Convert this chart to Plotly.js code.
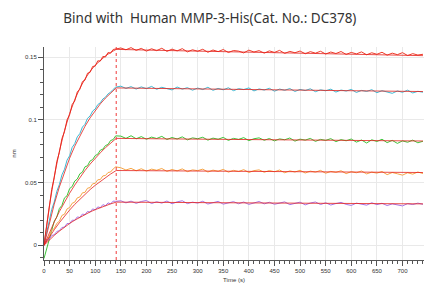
<!DOCTYPE html>
<html>
<head>
<meta charset="utf-8">
<script src="https://cdn.plot.ly/plotly-3.0.1.min.js"></script>
<style>html,body{margin:0;padding:0;background:#fff;}#chart{width:424px;height:286px;}</style>
</head>
<body>
<div id="chart"></div>
<script>
// Observed sensorgram times (s)
const tAssoc = [0,5,10,15,20,25,30,35,40,45,50,55,60,65,70,75,80,85,90,95,100,105,110,115,120,125,130,135,140];
const tDiss = [150,160,170,180,190,200,210,220,230,240,250,260,270,280,290,300,310,320,330,340,350,360,370,380,390,400,410,420,430,440,450,460,470,480,490,500,510,520,530,540,550,560,570,580,590,600,610,620,630,640,650,660,670,680,690,700,710,720,730,740];

// Observed responses (nm)
const redAssoc = [0.0008,0.0172,0.0290,0.0445,0.0538,0.0668,0.0740,0.0851,0.0905,0.1000,0.1040,0.1122,0.1150,0.1222,0.1243,0.1304,0.1316,0.1371,0.1378,0.1425,0.1428,0.1470,0.1468,0.1505,0.1500,0.1536,0.1530,0.1560,0.1566];
const redDiss = [0.1572,0.1558,0.1575,0.1553,0.1569,0.1547,0.1566,0.1551,0.1570,0.1545,
  0.1563,0.1549,0.1567,0.1541,0.1558,0.1546,0.1562,0.1538,0.1556,0.1543,
  0.1560,0.1536,0.1552,0.1547,0.1533,0.1555,0.1540,0.1551,0.1531,0.1549,
  0.1537,0.1553,0.1529,0.1545,0.1534,0.1548,0.1526,0.1543,0.1531,0.1546,
  0.1524,0.1540,0.1528,0.1544,0.1521,0.1537,0.1525,0.1541,0.1518,0.1534,
  0.1522,0.1538,0.1515,0.1531,0.1519,0.1535,0.1512,0.1527,0.1516,0.1522];

const cyanAssoc = [0.0010,0.0112,0.0190,0.0285,0.0345,0.0430,0.0484,0.0561,0.0606,0.0679,0.0713,0.0780,0.0810,0.0864,0.0890,0.0942,0.0964,0.1012,0.1030,0.1070,0.1086,0.1121,0.1136,0.1166,0.1180,0.1206,0.1220,0.1242,0.1260];
const cyanDiss = [0.1268,0.1250,0.1264,0.1245,0.1262,0.1248,0.1266,0.1243,0.1259,0.1249,
  0.1238,0.1261,0.1244,0.1256,0.1236,0.1253,0.1241,0.1259,0.1235,0.1250,
  0.1239,0.1255,0.1232,0.1248,0.1241,0.1254,0.1230,0.1246,0.1237,0.1251,
  0.1228,0.1245,0.1235,0.1249,0.1226,0.1242,0.1233,0.1247,0.1224,0.1239,
  0.1231,0.1244,0.1221,0.1237,0.1229,0.1242,0.1218,0.1234,0.1226,0.1240,
  0.1216,0.1232,0.1223,0.1211,0.1230,0.1219,0.1236,0.1214,0.1227,0.1220];

const greenAssoc = [-0.0105,-0.0030,0.0065,0.0118,0.0192,0.0225,0.0293,0.0318,0.0378,0.0395,0.0452,0.0468,0.0512,0.0528,0.0570,0.0583,0.0625,0.0634,0.0672,0.0683,0.0715,0.0726,0.0758,0.0766,0.0795,0.0803,0.0835,0.0842,0.0872];
const greenDiss = [0.0870,0.0852,0.0873,0.0849,0.0866,0.0845,0.0862,0.0851,0.0868,0.0843,
  0.0859,0.0847,0.0864,0.0840,0.0856,0.0849,0.0861,0.0838,0.0854,0.0845,
  0.0860,0.0836,0.0852,0.0844,0.0858,0.0834,0.0849,0.0856,0.0837,0.0851,
  0.0832,0.0848,0.0841,0.0855,0.0830,0.0846,0.0838,0.0852,0.0828,0.0844,
  0.0836,0.0850,0.0826,0.0842,0.0833,0.0847,0.0822,0.0839,0.0815,0.0841,
  0.0827,0.0845,0.0818,0.0836,0.0812,0.0832,0.0821,0.0838,0.0817,0.0829];

const orangeAssoc = [0.0005,0.0040,0.0070,0.0118,0.0134,0.0175,0.0192,0.0238,0.0248,0.0290,0.0301,0.0335,0.0344,0.0378,0.0385,0.0418,0.0422,0.0455,0.0460,0.0490,0.0494,0.0522,0.0524,0.0553,0.0556,0.0580,0.0584,0.0608,0.0625];
const orangeDiss = [0.0618,0.0600,0.0613,0.0594,0.0610,0.0591,0.0607,0.0598,0.0612,0.0589,
  0.0604,0.0593,0.0609,0.0587,0.0601,0.0595,0.0607,0.0584,0.0599,0.0590,
  0.0605,0.0583,0.0597,0.0588,0.0603,0.0580,0.0595,0.0601,0.0582,0.0596,
  0.0586,0.0600,0.0578,0.0593,0.0584,0.0598,0.0576,0.0591,0.0583,0.0597,
  0.0574,0.0589,0.0581,0.0594,0.0571,0.0587,0.0578,0.0592,0.0569,0.0583,
  0.0575,0.0588,0.0563,0.0580,0.0570,0.0559,0.0578,0.0567,0.0584,0.0572];

const purpleAssoc = [0.0002,0.0040,0.0048,0.0078,0.0084,0.0110,0.0117,0.0142,0.0145,0.0174,0.0172,0.0200,0.0199,0.0226,0.0222,0.0249,0.0244,0.0270,0.0264,0.0290,0.0282,0.0306,0.0300,0.0324,0.0315,0.0338,0.0330,0.0352,0.0350];
const purpleDiss = [0.0355,0.0338,0.0352,0.0334,0.0349,0.0357,0.0333,0.0347,0.0336,0.0353,
  0.0331,0.0346,0.0355,0.0332,0.0344,0.0336,0.0351,0.0329,0.0342,0.0350,
  0.0328,0.0340,0.0348,0.0331,0.0345,0.0326,0.0339,0.0349,0.0330,0.0343,
  0.0327,0.0338,0.0346,0.0324,0.0336,0.0344,0.0322,0.0337,0.0345,0.0325,
  0.0339,0.0321,0.0333,0.0342,0.0326,0.0318,0.0336,0.0328,0.0320,0.0339,
  0.0324,0.0335,0.0317,0.0330,0.0323,0.0314,0.0332,0.0325,0.0336,0.0327];

// Fitted curves (nm)
const tFit = [0,10,20,30,40,50,60,70,80,90,100,110,120,130,141,240,340,440,540,640,740];
const redFit = [0,0.0301,0.0547,0.0749,0.0914,0.1049,0.1160,0.1251,0.1325,0.1386,0.1435,0.1476,0.1509,0.1537,0.1561,0.1552,0.1543,0.1535,0.1527,0.1519,0.1511];
const cyanFit = [0,0.0174,0.0328,0.0465,0.0586,0.0694,0.0789,0.0873,0.0948,0.1015,0.1074,0.1127,0.1173,0.1214,0.1254,0.1249,0.1244,0.1240,0.1235,0.1230,0.1225];
const greenFit = [0,0.0097,0.0186,0.0269,0.0345,0.0415,0.0480,0.0540,0.0596,0.0647,0.0694,0.0737,0.0778,0.0815,0.0852,0.0848,0.0845,0.0841,0.0838,0.0834,0.0831];
const orangeFit = [0,0.0064,0.0124,0.0180,0.0232,0.0281,0.0326,0.0368,0.0407,0.0444,0.0478,0.0510,0.0540,0.0568,0.0596,0.0593,0.0591,0.0588,0.0585,0.0583,0.0580];
const purpleFit = [0,0.0041,0.0079,0.0113,0.0145,0.0174,0.0200,0.0224,0.0246,0.0266,0.0284,0.0301,0.0316,0.0330,0.0344,0.0342,0.0340,0.0337,0.0335,0.0332,0.0330];

const dissStart = 141;
const titleText = "Bind with\u00a0\u00a0Human MMP-3-His(Cat. No.: DC378)";

const tObs = tAssoc.concat(tDiss);
const observed = [
  {y: redAssoc.concat(redDiss), color: "#ee3b2a"},
  {y: cyanAssoc.concat(cyanDiss), color: "#3db8d3"},
  {y: greenAssoc.concat(greenDiss), color: "#3dc43a"},
  {y: orangeAssoc.concat(orangeDiss), color: "#f7a445"},
  {y: purpleAssoc.concat(purpleDiss), color: "#a774e6"}
];
const fits = [redFit, cyanFit, greenFit, orangeFit, purpleFit];

const traces = [];
observed.forEach(o => traces.push({
  x: tObs, y: o.y, type: "scatter", mode: "lines",
  line: {color: o.color, width: 1}, hoverinfo: "skip"
}));
fits.forEach(f => traces.push({
  x: tFit, y: f, type: "scatter", mode: "lines",
  line: {color: "#e4201b", width: 0.8}, hoverinfo: "skip"
}));

const layout = {
  width: 424, height: 286,
  margin: {l: 44, r: 0, t: 47, b: 26, pad: 0},
  paper_bgcolor: "#fff", plot_bgcolor: "#fff",
  showlegend: false,
  font: {family: "Liberation Sans, Arial, sans-serif", color: "#333", size: 6},
  title: {
    text: titleText,
    font: {family: "Noto Sans, Open Sans, sans-serif", size: 13.5, color: "#333"},
    x: 0.495, xref: "container", xanchor: "center",
    y: 0.937, yref: "container", yanchor: "middle"
  },
  xaxis: {
    range: [0, 742], tick0: 0, dtick: 50,
    ticks: "outside", ticklen: 5, tickwidth: 1, tickcolor: "#555",
    minor: {dtick: 10, ticks: "outside", ticklen: 3, tickcolor: "#555", showgrid: false},
    showline: true, linecolor: "#555", linewidth: 1,
    showgrid: true, gridcolor: "#e9e9e9", gridwidth: 1,
    zeroline: false,
    tickfont: {size: 6, color: "#333"},
    title: {text: "Time (s)", font: {size: 6, color: "#333"}, standoff: 4},
    automargin: false
  },
  yaxis: {
    range: [-0.0117, 0.158], tick0: 0, dtick: 0.05,
    ticks: "outside", ticklen: 5, tickwidth: 1, tickcolor: "#555",
    minor: {dtick: 0.01, ticks: "outside", ticklen: 3, tickcolor: "#555", showgrid: false},
    showline: true, linecolor: "#555", linewidth: 1,
    showgrid: true, gridcolor: "#e9e9e9", gridwidth: 1,
    zeroline: false,
    tickfont: {size: 6, color: "#333"},
    title: {text: "nm", font: {size: 6, color: "#333"}, standoff: 8},
    automargin: false
  },
  shapes: [{
    type: "line", xref: "x", yref: "paper",
    x0: dissStart, x1: dissStart, y0: 0, y1: 1,
    line: {color: "#f03a3a", width: 1, dash: "dot"}
  }]
};

Plotly.newPlot("chart", traces, layout, {displayModeBar: false, staticPlot: true});
</script>
</body>
</html>
